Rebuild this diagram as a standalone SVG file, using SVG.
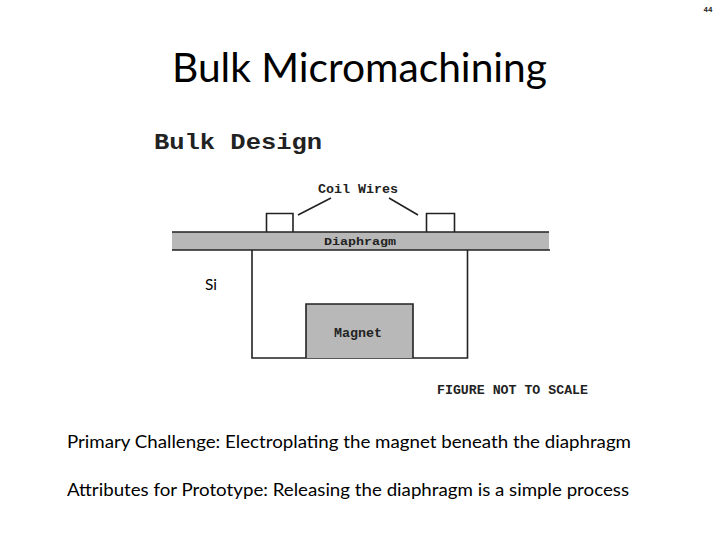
<svg xmlns="http://www.w3.org/2000/svg" width="720" height="540" viewBox="0 0 720 540">
<style>
.sans{font-family:"Lato","Open Sans",sans-serif;fill:#000}
.mono{font-family:"Liberation Mono","DejaVu Sans Mono",monospace;font-weight:700;fill:#222}
.fig{fill:#b8b8b8;stroke:none}
.ln{fill:none;stroke:#222;stroke-width:1.6}
</style>
<rect width="720" height="540" fill="#fff"/>
<text class="mono" x="708" y="12" font-size="8" text-anchor="middle" textLength="9" lengthAdjust="spacingAndGlyphs">44</text>
<text class="sans" x="172" y="82" font-size="41" textLength="375" lengthAdjust="spacingAndGlyphs">Bulk Micromachining</text>
<text class="mono" x="154" y="149" font-size="22" textLength="168" lengthAdjust="spacingAndGlyphs">Bulk Design</text>
<g id="diaphragm">
<rect class="fig" x="172" y="232" width="377" height="18"/>
<path class="ln" d="M172 232H549M172 250H550"/>
<text class="mono" x="360" y="245" font-size="11.5" text-anchor="middle" textLength="72" lengthAdjust="spacingAndGlyphs">Diaphragm</text>
</g>
<g id="coil-left"><path class="ln" d="M266.500 232V213.500H293V232"/></g>
<g id="coil-right"><path class="ln" d="M426.500 232V213.500H454.500V232"/></g>
<g id="coil-label"><text class="mono" x="358" y="193" font-size="12" text-anchor="middle" textLength="80" lengthAdjust="spacingAndGlyphs">Coil Wires</text></g>
<g id="housing"><path class="ln" d="M252 250V358H467.500V250"/></g>
<g id="magnet">
<rect class="fig" x="306" y="304" width="107" height="54"/>
<path class="ln" d="M306 358V304H413V358"/>
<text class="mono" x="358" y="337" font-size="12" text-anchor="middle" textLength="48" lengthAdjust="spacingAndGlyphs">Magnet</text>
</g>
<g id="connectors">
<path class="ln" d="M298 215L331 198M389 198L418 215" stroke-width="1.800"/>
</g>
<text class="sans" x="205" y="290" font-size="16" textLength="12" lengthAdjust="spacingAndGlyphs">Si</text>
<text class="mono" x="437" y="394" font-size="12" textLength="151" lengthAdjust="spacingAndGlyphs">FIGURE NOT TO SCALE</text>
<text class="sans" x="67" y="448" font-size="18" textLength="564" lengthAdjust="spacingAndGlyphs">Primary Challenge: Electroplating the magnet beneath the diaphragm</text>
<text class="sans" x="67" y="496" font-size="18" textLength="562" lengthAdjust="spacingAndGlyphs">Attributes for Prototype: Releasing the diaphragm is a simple process</text>
</svg>
